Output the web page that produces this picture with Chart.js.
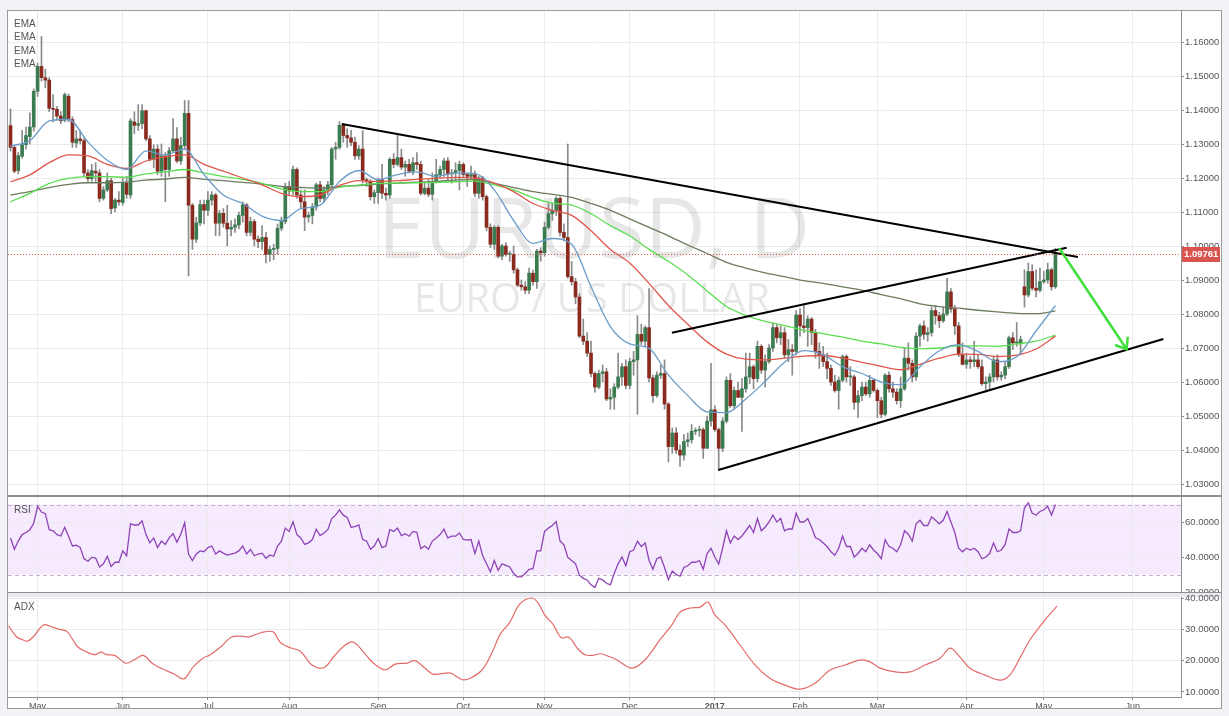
<!DOCTYPE html>
<html>
<head>
<meta charset="utf-8">
<title>EURUSD, D</title>
<script src="https://cdn.jsdelivr.net/npm/chart.js@4.4.1/dist/chart.umd.min.js"></script>
<style>
  html, body { margin:0; padding:0; width:1229px; height:716px; background:#f1f3f6; overflow:hidden; }
  .box { position:absolute; }
  #frame { left:7px; top:10px; width:1215px; height:699px; background:#fff; border:1px solid #9b9b9b; box-sizing:border-box; }
  #sep1 { left:8px; top:495px; width:1213px; height:2px; background:#8f8f8f; }
  #sep2 { left:8px; top:592px; width:1213px; height:5px; background:#e6e9ed; border-top:1px solid #8f8f8f; box-sizing:border-box; }
  #pMain { left:8px; top:11px; width:1212px; height:484px; }
  #pRsi { left:8px; top:497px; width:1212px; height:95px; }
  #pAdx { left:8px; top:590px; width:1212px; height:118px; }
</style>
</head>
<body>
<div id="frame" class="box"></div>
<div id="sep1" class="box"></div>
<div id="sep2" class="box"></div>
<div id="pMain" class="box"><canvas id="cMain"></canvas></div>
<div id="pRsi" class="box"><canvas id="cRsi"></canvas></div>
<div id="pAdx" class="box"><canvas id="cAdx"></canvas></div>
<script>
// ---------- DATA ----------
const firstBarDate = '2016-04-21';   // first daily bar shown
const firstBarIndex = -7;            // bar index of that date (0 = first bar of May 2016)
const symbolTitle = 'EURUSD, D';
const symbolName = 'EURO / US DOLLAR';
const lastPrice = 1.09761;

const opens = [1.1354,1.1290,
 1.1222,1.1264,1.1298,1.1322,1.1350,
 1.1455,1.1528,1.1495,1.1488,1.1405,
 1.1402,1.1382,1.1370,1.1440,1.1372,
 1.1303,1.1315,1.1310,1.1215,1.1198,
 1.1220,1.1215,1.1140,1.1165,1.1192,
 1.1112,1.1135,1.1128,1.1185,1.1150,
 1.1365,1.1355,1.1360,1.1398,1.1315,
 1.1255,1.1285,1.1220,1.1265,1.1225,
 1.1280,1.1315,1.1250,1.1295,1.1390,
 1.1120,1.1020,1.1068,1.1122,1.1105,
 1.1135,1.1150,1.1067,1.1096,1.1067,
 1.1050,1.1055,1.1062,1.1090,1.1121,
 1.1040,1.1072,1.1020,1.1013,1.1025,
 1.0975,1.0990,1.0993,1.1052,1.1072,
 1.1175,1.1162,1.1225,1.1150,1.1130,
 1.1085,1.1090,1.1115,1.1180,1.1140,
 1.1165,1.1180,1.1285,1.1290,1.1355,
 1.1325,1.1318,1.1305,1.1265,1.1285,
 1.1195,1.1190,1.1145,1.1157,1.1195,
 1.1155,1.1150,1.1255,1.1240,1.1260,
 1.1232,1.1240,1.1220,1.1245,1.1240,
 1.1155,1.1170,1.1152,1.1190,1.1210,
 1.1225,1.1250,1.1212,1.1215,1.1222,
 1.1240,1.1210,1.1205,1.1210,1.1155,
 1.1200,1.1145,1.1055,1.1005,1.1055,
 1.0970,1.1000,1.0975,1.0975,1.0930,
 1.0885,1.0880,1.0870,1.0920,1.0895,
 1.0985,1.0980,1.1055,1.1095,1.1105,
 1.1140,1.1040,1.1025,1.0910,1.0895,
 1.0850,1.0735,1.0720,1.0685,1.0625,
 1.0585,1.0625,1.0630,1.0550,1.0555,
 1.0585,1.0615,1.0645,1.0590,1.0660,
 1.0665,1.0740,1.0720,1.0760,1.0612,
 1.0560,1.0620,1.0625,1.0535,1.0410,
 1.0450,1.0400,1.0385,1.0425,1.0430,
 1.0455,1.0458,1.0460,1.0405,1.0485,
 1.0518,1.0460,1.0405,1.0485,1.0605,
 1.0530,1.0575,1.0555,1.0580,1.0615,
 1.0645,1.0610,1.0705,1.0635,1.0660,
 1.0700,1.0760,1.0730,1.0745,1.0680,
 1.0695,1.0690,1.0797,1.0765,1.0760,
 1.0785,1.0745,1.0690,1.0680,1.0660,
 1.0640,1.0600,1.0575,1.0605,1.0675,
 1.0615,1.0615,1.0540,1.0560,1.0585,
 1.0565,1.0605,1.0575,1.0545,1.0505,
 1.0620,1.0580,1.0570,1.0545,1.0580,
 1.0670,1.0655,1.0615,1.0735,1.0765,
 1.0740,1.0745,1.0810,1.0795,1.0780,
 1.0800,1.0865,1.0815,1.0765,1.0680,
 1.0652,1.0665,1.0660,1.0665,1.0645,
 1.0595,1.0600,1.0615,1.0665,1.0615,
 1.0620,1.0645,1.0730,1.0715,1.0715,
 1.0880,1.0856,1.0925,1.0876,1.0870,
 1.0895,1.0900,1.0930,1.0880];

const highs = [1.1403,1.1295,
 1.1275,1.1340,1.1350,1.1392,1.1462,
 1.1538,1.1616,1.1520,1.1495,1.1445,
 1.1410,1.1395,1.1450,1.1447,1.1380,
 1.1340,1.1340,1.1318,1.1225,1.1240,
 1.1245,1.1225,1.1175,1.1215,1.1200,
 1.1140,1.1160,1.1200,1.1205,1.1375,
 1.1395,1.1416,1.1416,1.1400,1.1325,
 1.1298,1.1298,1.1300,1.1275,1.1290,
 1.1375,1.1348,1.1320,1.1428,1.1428,
 1.1125,1.1085,1.1135,1.1135,1.1160,
 1.1160,1.1155,1.1105,1.1110,1.1120,
 1.1075,1.1080,1.1100,1.1130,1.1125,
 1.1085,1.1078,1.1030,1.1060,1.1040,
 1.1000,1.1005,1.1065,1.1085,1.1185,
 1.1190,1.1235,1.1230,1.1165,1.1165,
 1.1100,1.1125,1.1185,1.1190,1.1175,
 1.1190,1.1290,1.1305,1.1366,1.1360,
 1.1345,1.1340,1.1320,1.1295,1.1340,
 1.1200,1.1195,1.1165,1.1200,1.1240,
 1.1170,1.1260,1.1272,1.1325,1.1285,
 1.1250,1.1255,1.1260,1.1275,1.1250,
 1.1185,1.1195,1.1215,1.1255,1.1235,
 1.1258,1.1260,1.1225,1.1245,1.1250,
 1.1245,1.1215,1.1235,1.1220,1.1205,
 1.1205,1.1150,1.1065,1.1060,1.1060,
 1.1005,1.1010,1.0985,1.1000,1.0935,
 1.0900,1.0895,1.0935,1.0930,1.0990,
 1.0995,1.1070,1.1125,1.1125,1.1145,
 1.1145,1.1065,1.1300,1.0955,1.0905,
 1.0860,1.0785,1.0745,1.0720,1.0630,
 1.0635,1.0650,1.0640,1.0580,1.0595,
 1.0685,1.0655,1.0665,1.0670,1.0690,
 1.0795,1.0770,1.0765,1.0875,1.0620,
 1.0630,1.0650,1.0665,1.0540,1.0465,
 1.0465,1.0415,1.0445,1.0450,1.0475,
 1.0465,1.0470,1.0465,1.0500,1.0655,
 1.0530,1.0465,1.0495,1.0615,1.0625,
 1.0585,1.0600,1.0610,1.0685,1.0685,
 1.0650,1.0720,1.0710,1.0680,1.0710,
 1.0775,1.0770,1.0765,1.0760,1.0725,
 1.0710,1.0810,1.0815,1.0830,1.0795,
 1.0790,1.0755,1.0715,1.0705,1.0685,
 1.0650,1.0620,1.0615,1.0680,1.0680,
 1.0645,1.0620,1.0575,1.0600,1.0600,
 1.0620,1.0610,1.0580,1.0555,1.0625,
 1.0630,1.0600,1.0580,1.0615,1.0700,
 1.0715,1.0665,1.0745,1.0770,1.0780,
 1.0760,1.0820,1.0825,1.0805,1.0820,
 1.0905,1.0875,1.0825,1.0775,1.0715,
 1.0685,1.0675,1.0720,1.0680,1.0665,
 1.0615,1.0625,1.0675,1.0680,1.0630,
 1.0660,1.0735,1.0745,1.0775,1.0735,
 1.0930,1.0950,1.0945,1.0930,1.0935,
 1.0925,1.0950,1.0935,1.0993];

const lows = [1.1279,1.1215,
 1.1212,1.1258,1.1285,1.1300,1.1338,
 1.1440,1.1485,1.1465,1.1395,1.1365,
 1.1370,1.1360,1.1365,1.1365,1.1290,
 1.1290,1.1300,1.1205,1.1190,1.1190,
 1.1190,1.1130,1.1135,1.1160,1.1095,
 1.1100,1.1120,1.1120,1.1140,1.1140,
 1.1330,1.1340,1.1345,1.1310,1.1250,
 1.1230,1.1210,1.1205,1.1130,1.1205,
 1.1275,1.1245,1.1240,1.1285,1.0912,
 1.0990,1.1010,1.1060,1.1065,1.1090,
 1.1120,1.1030,1.1030,1.1055,1.1000,
 1.1030,1.1040,1.1050,1.1070,1.1030,
 1.1030,1.1000,1.0995,1.0990,1.0950,
 1.0955,1.0960,1.0975,1.1045,1.1065,
 1.1150,1.1150,1.1140,1.1110,1.1045,
 1.1070,1.1065,1.1105,1.1130,1.1130,
 1.1150,1.1175,1.1255,1.1285,1.1305,
 1.1290,1.1295,1.1255,1.1255,1.1185,
 1.1175,1.1135,1.1125,1.1125,1.1140,
 1.1135,1.1140,1.1230,1.1235,1.1225,
 1.1205,1.1215,1.1210,1.1225,1.1150,
 1.1150,1.1145,1.1135,1.1185,1.1200,
 1.1205,1.1195,1.1185,1.1190,1.1165,
 1.1200,1.1175,1.1195,1.1145,1.1140,
 1.1135,1.1045,1.0995,1.0990,1.0965,
 1.0960,1.0970,1.0955,1.0920,1.0880,
 1.0870,1.0860,1.0860,1.0885,1.0875,
 1.0955,1.0970,1.1050,1.1075,1.1090,
 1.1030,1.1015,1.0905,1.0885,1.0830,
 1.0730,1.0710,1.0675,1.0615,1.0570,
 1.0580,1.0600,1.0545,1.0520,1.0520,
 1.0580,1.0590,1.0580,1.0580,1.0620,
 1.0505,1.0710,1.0705,1.0600,1.0540,
 1.0555,1.0610,1.0520,1.0365,1.0390,
 1.0390,1.0352,1.0370,1.0410,1.0420,
 1.0445,1.0440,1.0375,1.0405,1.0470,
 1.0455,1.0340,1.0395,1.0480,1.0525,
 1.0520,1.0555,1.0455,1.0570,1.0595,
 1.0580,1.0600,1.0625,1.0585,1.0655,
 1.0690,1.0715,1.0710,1.0670,1.0660,
 1.0620,1.0680,1.0735,1.0745,1.0705,
 1.0710,1.0670,1.0640,1.0645,1.0610,
 1.0590,1.0570,1.0520,1.0600,1.0600,
 1.0590,1.0520,1.0495,1.0545,1.0560,
 1.0555,1.0570,1.0495,1.0495,1.0500,
 1.0570,1.0555,1.0535,1.0525,1.0575,
 1.0635,1.0600,1.0605,1.0705,1.0725,
 1.0720,1.0735,1.0770,1.0760,1.0775,
 1.0795,1.0805,1.0740,1.0675,1.0650,
 1.0640,1.0640,1.0645,1.0640,1.0590,
 1.0570,1.0580,1.0600,1.0605,1.0605,
 1.0610,1.0640,1.0695,1.0705,1.0680,
 1.0820,1.0850,1.0870,1.0850,1.0865,
 1.0890,1.0890,1.0870,1.0875];

const closes = [1.1290,1.1220,
 1.1266,1.1298,1.1325,1.1350,1.1455,
 1.1528,1.1495,1.1488,1.1405,1.1402,
 1.1382,1.1368,1.1445,1.1372,1.1305,
 1.1315,1.1310,1.1215,1.1198,1.1222,
 1.1215,1.1140,1.1165,1.1192,1.1110,
 1.1135,1.1130,1.1185,1.1152,1.1368,
 1.1355,1.1360,1.1398,1.1315,1.1255,
 1.1285,1.1220,1.1265,1.1225,1.1280,
 1.1315,1.1250,1.1295,1.1390,1.1120,
 1.1020,1.1068,1.1122,1.1105,1.1135,
 1.1150,1.1067,1.1096,1.1067,1.1050,
 1.1055,1.1062,1.1090,1.1121,1.1040,
 1.1072,1.1020,1.1013,1.1025,1.0975,
 1.0990,1.0993,1.1052,1.1072,1.1175,
 1.1162,1.1225,1.1150,1.1130,1.1085,
 1.1090,1.1115,1.1180,1.1140,1.1165,
 1.1180,1.1285,1.1290,1.1355,1.1325,
 1.1318,1.1305,1.1265,1.1285,1.1195,
 1.1190,1.1145,1.1157,1.1195,1.1155,
 1.1150,1.1255,1.1240,1.1260,1.1232,
 1.1240,1.1220,1.1245,1.1240,1.1155,
 1.1170,1.1152,1.1190,1.1210,1.1225,
 1.1250,1.1212,1.1215,1.1222,1.1240,
 1.1210,1.1205,1.1210,1.1155,1.1200,
 1.1145,1.1055,1.1005,1.1055,1.0970,
 1.1000,1.0975,1.0975,1.0930,1.0885,
 1.0880,1.0870,1.0920,1.0895,1.0985,
 1.0980,1.1055,1.1095,1.1105,1.1140,
 1.1040,1.1025,1.0910,1.0895,1.0850,
 1.0735,1.0720,1.0685,1.0625,1.0585,
 1.0625,1.0630,1.0550,1.0555,1.0585,
 1.0615,1.0645,1.0590,1.0660,1.0665,
 1.0740,1.0720,1.0760,1.0612,1.0560,
 1.0620,1.0625,1.0535,1.0410,1.0450,
 1.0400,1.0385,1.0425,1.0430,1.0455,
 1.0458,1.0460,1.0405,1.0485,1.0518,
 1.0460,1.0405,1.0485,1.0605,1.0530,
 1.0575,1.0555,1.0580,1.0615,1.0645,
 1.0610,1.0705,1.0635,1.0660,1.0700,
 1.0760,1.0730,1.0745,1.0680,1.0695,
 1.0690,1.0797,1.0765,1.0760,1.0785,
 1.0745,1.0690,1.0680,1.0660,1.0640,
 1.0600,1.0575,1.0605,1.0675,1.0615,
 1.0615,1.0540,1.0560,1.0585,1.0565,
 1.0605,1.0575,1.0545,1.0505,1.0620,
 1.0580,1.0570,1.0545,1.0580,1.0670,
 1.0655,1.0615,1.0735,1.0765,1.0740,
 1.0745,1.0810,1.0795,1.0780,1.0800,
 1.0865,1.0815,1.0765,1.0680,1.0652,
 1.0665,1.0660,1.0665,1.0645,1.0595,
 1.0600,1.0615,1.0665,1.0615,1.0620,
 1.0645,1.0730,1.0715,1.0715,1.0725,
 1.0856,1.0925,1.0876,1.0870,1.0895,
 1.0900,1.0930,1.0880,1.09761];

// EMA lines, sampled every 5 bars
const emaBars = [-7,-2,3,8,13,18,23,28,33,38,43,48,53,58,63,68,73,78,83,88,93,98,103,108,113,118,123,128,133,138,143,148,153,158,163,168,173,178,183,188,193,198,203,208,213,218,223,228,233,238,243,248,253,258,263];
const emaBlue = [1.1294,1.1310,1.1368,1.1372,1.1306,1.1252,1.1225,1.1280,1.1268,1.1285,1.1210,1.1150,1.1125,1.1088,1.1075,1.1110,1.1120,1.1190,1.1222,1.1195,1.1210,1.1218,1.1205,1.1215,1.1213,1.1165,1.1075,1.1008,1.1022,1.1005,1.0880,1.0763,1.0712,1.0699,1.0620,1.0560,1.0512,1.0510,1.0550,1.0602,1.0658,1.0692,1.0680,1.0645,1.0625,1.0600,1.0592,1.0645,1.0692,1.0710,1.0690,1.0660,1.0674,1.0750,1.0825];
const emaRed = [1.1189,1.1209,1.1245,1.1268,1.1265,1.1240,1.1228,1.1250,1.1263,1.1268,1.1240,1.1220,1.1200,1.1180,1.1155,1.1145,1.1150,1.1178,1.1192,1.1190,1.1192,1.1196,1.1199,1.1202,1.1200,1.1185,1.1160,1.1125,1.1105,1.1090,1.1045,1.0990,1.0950,1.0890,1.0825,1.0770,1.0718,1.0682,1.0667,1.0665,1.0670,1.0676,1.0678,1.0670,1.0658,1.0646,1.0636,1.0652,1.0670,1.0682,1.0681,1.0675,1.0679,1.0697,1.0735];
const emaGreen = [1.1130,1.1155,1.1184,1.1199,1.1204,1.1204,1.1202,1.1212,1.1218,1.1225,1.1215,1.1204,1.1196,1.1184,1.1168,1.1160,1.1160,1.1173,1.1179,1.1184,1.1185,1.1186,1.1187,1.1189,1.1191,1.1180,1.1165,1.1142,1.1126,1.1120,1.1095,1.1060,1.1030,1.0990,1.0955,1.0915,1.0868,1.0822,1.0796,1.0778,1.0766,1.0752,1.0742,1.0732,1.0720,1.0712,1.0702,1.0698,1.0700,1.0706,1.0706,1.0705,1.0712,1.0720,1.0738];
const emaOlive = [1.1150,1.1160,1.1172,1.1181,1.1186,1.1186,1.1188,1.1194,1.1197,1.1202,1.1196,1.1192,1.1187,1.1182,1.1175,1.1172,1.1170,1.1175,1.1178,1.1182,1.1185,1.1188,1.1190,1.1194,1.1195,1.1184,1.1172,1.1160,1.1152,1.1143,1.1125,1.1105,1.1080,1.1055,1.1030,1.1003,1.0978,1.0952,1.0935,1.0921,1.0910,1.0898,1.0890,1.0880,1.0870,1.0857,1.0845,1.0830,1.0822,1.0817,1.0811,1.0806,1.0802,1.0801,1.0809];

// RSI, one value per bar
const rsiValues = [50.9,44.4,49.1,52.8,54.0,55.6,59.3,68.9,65.7,64.8,
 55.6,55.0,52.8,52.0,57.0,51.9,46.3,46.7,45.5,38.9,
 37.6,39.8,39.4,34.3,36.1,40.4,34.6,37.0,37.0,43.5,
 40.7,58.9,58.3,58.3,60.7,52.8,48.1,50.9,45.4,49.1,
 47.2,50.9,53.3,48.5,53.0,59.6,41.7,38.0,41.7,43.5,
 43.0,45.4,46.3,41.7,43.5,42.2,41.1,41.7,42.2,43.5,
 46.3,41.7,44.4,40.7,41.7,42.2,39.3,41.1,40.4,46.3,
 49.1,56.5,54.6,60.2,52.8,50.9,47.2,48.1,50.0,55.9,
 52.2,53.7,55.6,62.0,63.9,67.0,63.9,62.6,57.0,57.4,
 58.3,50.0,49.1,44.4,46.3,50.4,45.4,46.3,55.6,54.6,
 56.5,52.2,53.3,51.9,54.6,54.1,44.8,46.3,44.4,49.1,
 50.9,52.8,55.9,50.9,51.9,51.9,53.7,50.0,49.6,50.0,
 42.0,49.1,40.7,36.1,31.5,38.0,32.4,36.1,35.2,34.3,
 30.6,28.7,28.7,30.6,33.0,33.3,43.5,43.5,54.6,56.5,
 58.0,60.2,49.1,47.0,39.8,38.0,36.1,29.6,27.8,26.9,
 24.1,22.6,27.8,26.9,25.0,24.1,30.6,36.1,40,35,
 43,44,49,46,48,38,33,39,40,34,
 27,32,30,29,34,35,37,37,38,33,
 42,45,40,36,45,55,48,52,50,52,
 55,58,54,62,55,57,60,64,60,62,
 55,56,56,65,60,60,62,57,51,50,
 48,46,43,41,45,52,46,46,40,42,
 45,43,47,44,42,39,50,46,45,43,
 47,55,53,49,59,61,58,58,63,61,
 59,61,66,60,54,45,43,45,44,45,
 43,39,40,42,48,43,44,47,56,54,
 54,55,68,71,65,64,66,67,69,64,
 70];
const rsiUpper = 70, rsiLower = 30;

// ADX, sampled points
const adxBars = [-7.5,-5.6,-4.1,-2.6,-1.0,1.5,3.6,5.6,7.7,10.2,12.3,14.8,16.3,17.9,19.9,22.8,25.0,27.3,29.6,32.2,35.2,37.8,40.3,42.9,44.4,47.5,50.0,52.6,54.6,57.7,60.8,62.8,65.3,67.9,71.0,74.0,76.6,79.1,81.2,82.7,85.3,87.3,89.9,92.4,95.5,97.5,100.1,102.1,104.1,106.7,109.8,111.8,114.9,117.4,119.5,122.0,124.6,127.6,129.2,131.2,133.2,135.3,137.3,139.4,141.4,143.5,145.5,147.5,149.6,153.6,156.9,160.8,163.9,166,168.6,171.2,173.2,175,177.6,181.5,185.4,189.2,193.1,197,200.9,204.8,208.6,212.5,215.1,217.7,221.6,225.4,229.3,233.2,235.8,238.3,240.9,244.8,248.7,251.2,253.8,256.4,260.3,263.4];
const adxValues = [31.1,27.8,26.8,26.2,27.8,31.4,30.8,30.0,29.2,24.6,23.0,21.9,22.7,21.9,21.7,19.2,20.3,21.7,19.2,17.4,15.8,14.2,18.2,20.9,21.7,24.6,27.5,27.8,27.6,28.9,29.2,25.7,24.1,23.0,18.5,17.8,21.4,24.6,26.0,24.9,21.1,18.7,17.1,18.9,19.2,20.0,17.6,15.7,15.8,16.0,13.9,14.4,17.1,22.5,28.4,32.2,38.1,40.0,38.6,34.3,31.6,27.3,27.5,24.1,21.9,21.7,22.2,21.4,20.3,17.6,20.2,26.6,31.4,35.5,36.8,37.1,38.7,34.6,31.4,25,18.6,14.4,12.2,10.9,12.8,17,18.6,20.2,19.6,17.6,16.4,16.4,18.6,20.8,24,21.2,17.6,15.4,13.8,15.4,20.8,26.6,33,37.4];

// hand-drawn lines (bar index, price)
const resistanceBars = [78.6, 268.8], resistancePrices = [1.13588, 1.09676];
const channelTopBars = [163.9, 265.9], channelTopPrices = [1.0745, 1.0995];
const channelLowBars = [175.9, 290.9], channelLowPrices = [1.03412, 1.07265];
const arrowShaftBars = [264.0, 281.4], arrowShaftPrices = [1.09932, 1.06962];
const arrowHeadBars = [278.4, 281.4, 281.7], arrowHeadPrices = [1.07088, 1.06962, 1.07332];

// axis ticks
const priceTicks = [1.03,1.04,1.05,1.06,1.07,1.08,1.09,1.10,1.11,1.12,1.13,1.14,1.15,1.16];
const rsiTicks = [20, 40, 60];
const adxTicks = [10, 20, 30, 40];
const monthNames = ['Jan','Feb','Mar','Apr','May','Jun','Jul','Aug','Sep','Oct','Nov','Dec'];
const emaLabels = ['EMA','EMA','EMA','EMA'];

// ---------- VIEW ----------
const X_MIN = -7.65, X_MAX = 295.45;
const P_MIN = 1.026765, P_MAX = 1.169118;
const R_MIN = 20, R_MAX = 74.29;
const A_MIN = 8.40, A_MAX = 40.32;
const FONT = '"Liberation Sans", Arial, Helvetica, sans-serif';
const UP = '#3b7b50', DOWN = '#8a2a1f', WICK = '#8a8a8a';
const GRID = '#ebebeb', AXIS = '#8f8f8f', TXT = '#555';

// dates for the month ticks (weekday bars)
function weekdayDates(startISO, n) {
  const out = []; const d = new Date(startISO + 'T00:00:00Z');
  while (out.length < n) { const w = d.getUTCDay(); if (w !== 0 && w !== 6) out.push(new Date(d)); d.setUTCDate(d.getUTCDate() + 1); }
  return out;
}
const dates = weekdayDates(firstBarDate, Math.ceil(X_MAX - firstBarIndex) + 1);
const monthTicks = [];
for (let k = 1; k < dates.length; k++) {
  if (dates[k].getUTCMonth() !== dates[k - 1].getUTCMonth()) {
    const m = dates[k].getUTCMonth();
    monthTicks.push({ value: k + firstBarIndex, label: m === 0 ? String(dates[k].getUTCFullYear()) : monthNames[m] });
  }
}

const pts = (xs, ys) => xs.map((x, k) => ({ x, y: ys[k] }));
const barPts = (ys) => ys.map((y, k) => ({ x: k + firstBarIndex, y }));

function xScale(showLabels) {
  return {
    type: 'linear', min: X_MIN, max: X_MAX, offset: false,
    afterBuildTicks: s => { s.ticks = monthTicks.map(t => ({ value: t.value })); },
    grid: { color: GRID, drawTicks: showLabels, tickLength: 3, tickColor: AXIS, offset: false },
    border: { display: showLabels, color: AXIS },
    ticks: {
      display: showLabels, autoSkip: false, maxRotation: 0, padding: 1, color: TXT,
      callback: v => { const t = monthTicks.find(m => m.value === v); return t ? t.label : ''; },
      font: ctx => ({ family: FONT, size: 9, weight: (ctx.tick && /^\d{4}$/.test(ctx.tick.label)) ? 'bold' : 'normal' })
    },
    afterFit: s => { s.height = showLabels ? 11 : 0; s.paddingLeft = 0; s.paddingRight = 0; }
  };
}
function yScale(min, max, ticks, digits) {
  return {
    type: 'linear', position: 'right', min, max,
    afterBuildTicks: s => { s.ticks = ticks.map(v => ({ value: v })); },
    grid: { color: GRID, tickLength: 3, tickColor: AXIS },
    border: { display: true, color: AXIS },
    ticks: { color: TXT, padding: 1, font: { family: FONT, size: 9.5 }, callback: v => Number(v).toFixed(digits) },
    afterFit: s => { s.width = 39; s.paddingTop = 0; s.paddingBottom = 0; }
  };
}
function lineDs(data, color, width, order, extra) {
  return Object.assign({ type: 'line', data, borderColor: color, borderWidth: width, pointRadius: 0, fill: false, tension: 0, order }, extra || {});
}
const baseOpts = {
  responsive: true, maintainAspectRatio: false, animation: false, events: [],
  plugins: { legend: { display: false }, tooltip: { enabled: false } }
};

// ---------- MAIN PANEL ----------
const mainDeco = {
  id: 'mainDeco',
  beforeDatasetsDraw(chart) {
    const { ctx, chartArea: a } = chart;
    ctx.save();
    ctx.fillStyle = 'rgba(0,0,0,0.095)';
    ctx.textAlign = 'center'; ctx.textBaseline = 'alphabetic';
    const cx = a.left + (a.right - a.left) * 0.4995;
    ctx.font = '84px "Open Sans", "DejaVu Sans", sans-serif';
    ctx.fillText(symbolTitle, cx, 247);
    ctx.font = '40px "Open Sans", "DejaVu Sans", sans-serif';
    ctx.fillText(symbolName, cx - 2, 301);
    ctx.restore();
  },
  afterDatasetsDraw(chart) {
    const { ctx, chartArea: a, scales: { y } } = chart;
    const py = Math.round(y.getPixelForValue(lastPrice)) + 0.5;
    ctx.save();
    ctx.strokeStyle = '#d9534f'; ctx.lineWidth = 1; ctx.setLineDash([1, 2]);
    ctx.beginPath(); ctx.moveTo(a.left, py); ctx.lineTo(a.right, py); ctx.stroke();
    ctx.restore();
  },
  afterDraw(chart) {
    const { ctx, chartArea: a, scales: { y } } = chart;
    const py = Math.round(y.getPixelForValue(lastPrice));
    ctx.save();
    ctx.fillStyle = '#d9534f';
    ctx.fillRect(a.right + 1, py - 7, 38, 15);
    ctx.fillStyle = '#fff'; ctx.font = 'bold 9.5px ' + FONT; ctx.textBaseline = 'middle'; ctx.textAlign = 'left';
    ctx.fillText(lastPrice.toFixed(5), a.right + 3, py + 0.5);
    ctx.fillStyle = TXT; ctx.font = '10px ' + FONT;
    emaLabels.forEach((t, k) => ctx.fillText(t, a.left + 6, 13 + k * 13.5));
    ctx.restore();
  }
};

new Chart(document.getElementById('cMain'), {
  type: 'bar',
  data: {
    datasets: [
      { type: 'bar', data: opens.map((o, k) => ({ x: k + firstBarIndex, y: [lows[k], highs[k]] })), backgroundColor: WICK, barThickness: 1, grouped: false, order: 20 },
      { type: 'bar', data: opens.map((o, k) => ({ x: k + firstBarIndex, y: [o, closes[k]] })), backgroundColor: opens.map((o, k) => closes[k] >= o ? UP : DOWN), barThickness: 3, minBarLength: 1, grouped: false, order: 19 },
      lineDs(pts(emaBars, emaOlive), '#6b7c5f', 1.3, 9, { cubicInterpolationMode: 'monotone' }),
      lineDs(pts(emaBars, emaGreen), '#5ade4f', 1.3, 8, { cubicInterpolationMode: 'monotone' }),
      lineDs(pts(emaBars, emaRed), '#e0574c', 1.3, 7, { cubicInterpolationMode: 'monotone' }),
      lineDs(pts(emaBars, emaBlue), '#6b9cc9', 1.3, 6, { cubicInterpolationMode: 'monotone' }),
      lineDs(pts(resistanceBars, resistancePrices), '#000', 2.2, 3),
      lineDs(pts(channelTopBars, channelTopPrices), '#000', 2.2, 3),
      lineDs(pts(channelLowBars, channelLowPrices), '#000', 2.2, 3),
      lineDs(pts(arrowShaftBars, arrowShaftPrices), '#3fe03a', 2.5, 1),
      lineDs(pts(arrowHeadBars, arrowHeadPrices), '#3fe03a', 2.5, 1)
    ]
  },
  options: Object.assign({}, baseOpts, {
    layout: { padding: 0 },
    scales: { x: xScale(false), y: yScale(P_MIN, P_MAX, priceTicks, 5) }
  }),
  plugins: [mainDeco]
});

// ---------- RSI PANEL ----------
const rsiDeco = {
  id: 'rsiDeco',
  beforeDraw(chart) {
    const { ctx, chartArea: a, scales: { y } } = chart;
    const y1 = y.getPixelForValue(rsiUpper), y2 = y.getPixelForValue(rsiLower);
    ctx.save(); ctx.fillStyle = 'rgba(153,21,255,0.09)';
    ctx.fillRect(a.left, y1, a.right - a.left, y2 - y1); ctx.restore();
  },
  beforeDatasetsDraw(chart) {
    const { ctx, chartArea: a, scales: { y } } = chart;
    ctx.save(); ctx.strokeStyle = '#bfb3c9'; ctx.lineWidth = 1; ctx.setLineDash([4, 3]);
    [rsiUpper, rsiLower].forEach(v => {
      const py = Math.round(y.getPixelForValue(v)) + 0.5;
      ctx.beginPath(); ctx.moveTo(a.left, py); ctx.lineTo(a.right, py); ctx.stroke();
    });
    ctx.restore();
  },
  afterDraw(chart) {
    const { ctx, chartArea: a } = chart;
    ctx.save(); ctx.fillStyle = TXT; ctx.font = '10px ' + FONT; ctx.textBaseline = 'middle';
    ctx.fillText('RSI', a.left + 6, 13); ctx.restore();
  }
};
new Chart(document.getElementById('cRsi'), {
  type: 'line',
  data: { datasets: [ lineDs(barPts(rsiValues), '#8e44b5', 1.3, 1) ] },
  options: Object.assign({}, baseOpts, {
    layout: { padding: 0 },
    scales: { x: xScale(false), y: yScale(R_MIN, R_MAX, rsiTicks, 4) }
  }),
  plugins: [rsiDeco]
});

// ---------- ADX PANEL ----------
const adxDeco = {
  id: 'adxDeco',
  afterDraw(chart) {
    const { ctx, chartArea: a } = chart;
    ctx.save(); ctx.fillStyle = TXT; ctx.font = '10px ' + FONT; ctx.textBaseline = 'middle';
    ctx.fillText('ADX', a.left + 6, a.top + 10); ctx.restore();
  }
};
new Chart(document.getElementById('cAdx'), {
  type: 'line',
  data: { datasets: [ lineDs(pts(adxBars, adxValues), '#e36a6a', 1.2, 1, { tension: 0.35 }) ] },
  options: Object.assign({}, baseOpts, {
    layout: { padding: { top: 7, left: 0, right: 0, bottom: 0 } },
    scales: { x: xScale(true), y: yScale(A_MIN, A_MAX, adxTicks, 4) }
  }),
  plugins: [adxDeco]
});
</script>
</body>
</html>
